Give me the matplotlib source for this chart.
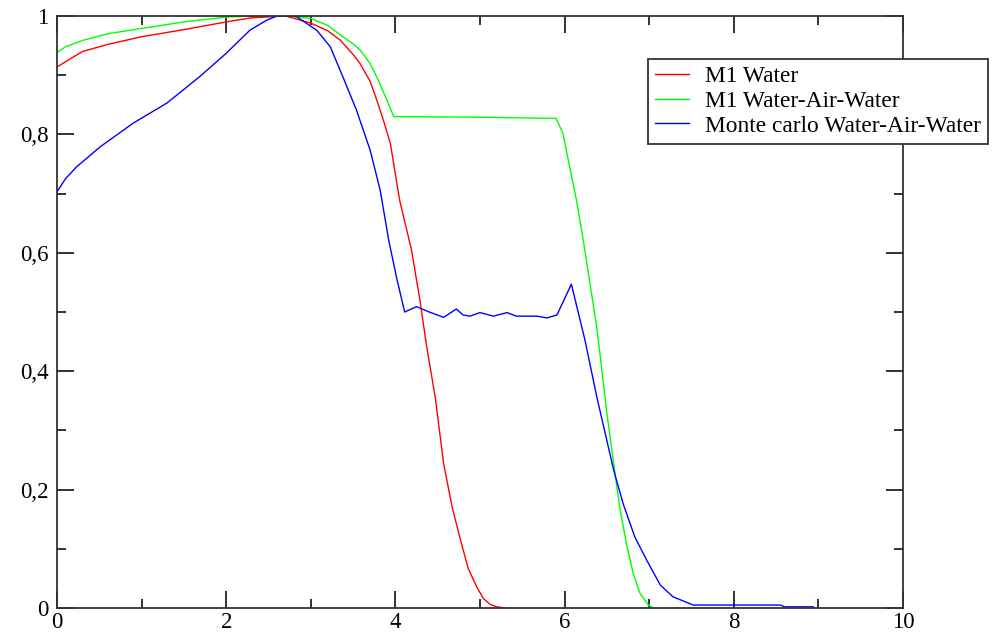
import matplotlib.pyplot as plt
from matplotlib.ticker import MultipleLocator, FuncFormatter

plt.rcParams['font.family'] = ['Liberation Serif', 'DejaVu Serif']

# M1 Water
x_m1_water = [0, 0.3, 0.6, 1.0, 1.5, 2.0, 2.3, 2.7, 3.0, 3.2, 3.35, 3.5, 3.58, 3.7,
              3.78, 3.86, 3.94, 4.05, 4.19, 4.29, 4.37, 4.47, 4.57, 4.67, 4.76,
              4.86, 4.96, 5.04, 5.12, 5.2, 5.3]
y_m1_water = [0.914, 0.94, 0.952, 0.965, 0.977, 0.99, 0.997, 1.0, 0.988, 0.975, 0.959,
              0.935, 0.92, 0.89, 0.858, 0.823, 0.785, 0.689, 0.605, 0.52, 0.441, 0.357,
              0.244, 0.171, 0.12, 0.067, 0.036, 0.016, 0.006, 0.002, 0.0]

# M1 Water-Air-Water
x_m1_waw = [0, 0.1, 0.31, 0.6, 1.0, 1.5, 2.0, 2.3, 2.7, 3.0, 3.2, 3.35, 3.5, 3.58, 3.7,
            3.78, 3.9, 3.98, 5.0, 5.9, 5.98, 6.06, 6.14, 6.22, 6.3, 6.38, 6.5, 6.58,
            6.65, 6.73, 6.81, 6.89, 6.99, 7.05]
y_m1_waw = [0.938, 0.948, 0.959, 0.97, 0.979, 0.99, 0.998, 1.0, 1.0, 0.996, 0.984, 0.968,
            0.953, 0.943, 0.92, 0.897, 0.858, 0.83, 0.829, 0.827, 0.802, 0.745, 0.689,
            0.622, 0.548, 0.475, 0.329, 0.244, 0.171, 0.109, 0.059, 0.025, 0.005, 0.0]

# Monte carlo Water-Air-Water
x_mc = [0, 0.1, 0.23, 0.51, 0.9, 1.3, 1.69, 2.0, 2.28, 2.48, 2.6, 2.75, 2.83, 3.07, 3.23,
        3.38, 3.54, 3.7, 3.82, 3.92, 4.02, 4.11, 4.25, 4.4, 4.57, 4.72, 4.8, 4.88, 5.0,
        5.16, 5.32, 5.43, 5.67, 5.79, 5.91, 6.08, 6.24, 6.38, 6.58, 6.69, 6.83, 6.97,
        7.13, 7.28, 7.52, 8.55, 8.6, 8.94]
y_mc = [0.703, 0.725, 0.745, 0.779, 0.819, 0.853, 0.898, 0.937, 0.976, 0.993, 1.0, 1.0,
        0.999, 0.976, 0.948, 0.897, 0.841, 0.774, 0.706, 0.622, 0.554, 0.5, 0.509, 0.5,
        0.491, 0.505, 0.495, 0.493, 0.499, 0.493, 0.499, 0.493, 0.493, 0.49, 0.495,
        0.547, 0.453, 0.357, 0.233, 0.177, 0.12, 0.081, 0.039, 0.019, 0.005, 0.005,
        0.002, 0.002]

fig = plt.figure(figsize=(10.03, 6.4), dpi=100)
ax = fig.add_axes([57 / 1003, 32 / 640, 846 / 1003, 592 / 640])

ax.plot(x_m1_water, y_m1_water, color='#ff0000', lw=1.0, label='M1 Water')
ax.plot(x_m1_waw, y_m1_waw, color='#00ff00', lw=1.0, label='M1 Water-Air-Water')
ax.plot(x_mc, y_mc, color='#0000ff', lw=1.0, label='Monte carlo Water-Air-Water')

ax.set_xlim(0, 10)
ax.set_ylim(0, 1)
ax.xaxis.set_major_locator(MultipleLocator(2))
ax.xaxis.set_minor_locator(MultipleLocator(1))
ax.yaxis.set_major_locator(MultipleLocator(0.2))
ax.yaxis.set_minor_locator(MultipleLocator(0.1))

# etiquetas con coma decimal
def coma(v, pos):
    s = ('%.1f' % v).rstrip('0').rstrip('.')
    return s.replace('.', ',')

ax.xaxis.set_major_formatter(FuncFormatter(coma))
ax.yaxis.set_major_formatter(FuncFormatter(coma))

ax.tick_params(which='both', direction='in', top=True, right=True,
               width=1.3, color='#222222', labelsize=16.5)
ax.tick_params(which='major', length=12.5)
ax.tick_params(which='minor', length=6.5)
ax.tick_params(axis='x', pad=3)
ax.tick_params(axis='y', pad=6)
for s in ax.spines.values():
    s.set_linewidth(1.3)
    s.set_color('#333333')

leg = ax.legend(loc='upper left', bbox_to_anchor=(648 / 1003, 1 - 59 / 640),
                bbox_transform=fig.transFigure, borderaxespad=0, fancybox=False,
                framealpha=1, edgecolor='#333333', fontsize=16.8,
                handlelength=1.46, handletextpad=0.69, labelspacing=0.14,
                borderpad=0.3)
leg.get_frame().set_linewidth(1.3)

plt.savefig('out.png', dpi=100)
